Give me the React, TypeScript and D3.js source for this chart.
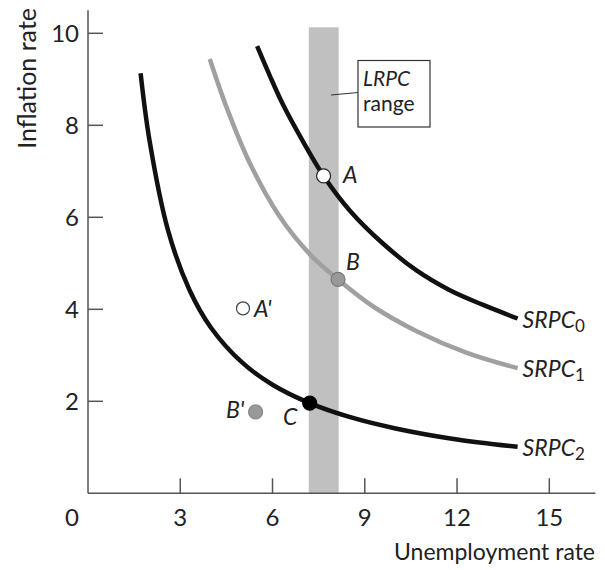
import { useEffect, useRef } from 'react'
import * as d3 from 'd3'

// values (unemployment %, inflation %)
const srpc0 = [
  [5.5, 9.72], [5.91, 9.08], [6.34, 8.45], [6.88, 7.78], [7.66, 6.9], [8.51, 6.15], [9.59, 5.43],
  [10.67, 4.85], [11.75, 4.42], [12.83, 4.1], [13.97, 3.8],
]
const srpc1 = [
  [3.96, 9.44], [4.5, 8.4], [5.26, 7.18], [6.2, 6.05], [7.21, 5.2], [8.13, 4.65], [9.3, 4.05],
  [10.67, 3.53], [12.3, 3.06], [13.97, 2.72],
]
const srpc2 = [
  [1.71, 9.13], [2.0, 7.67], [2.6, 5.72], [3.3, 4.42], [4.0, 3.6], [5.0, 2.85], [6.0, 2.36],
  [7.21, 1.96], [8.5, 1.66], [10.0, 1.41], [12.0, 1.17], [13.97, 1.01],
]
const curveNames = ['0', '1', '2']
const lrpcRange = [7.18, 8.15]
const lrpcTop = 10.13
const xTicks = [3, 6, 9, 12, 15]
const yTicks = [2, 4, 6, 8, 10]
const points = [
  { name: 'A', x: 7.66, y: 6.9, fill: '#fff', stroke: '#222' },
  { name: 'B', x: 8.13, y: 4.65, fill: '#999', stroke: '#777' },
  { name: "A'", x: 5.04, y: 4.02, fill: '#fff', stroke: '#444' },
  { name: "B'", x: 5.45, y: 1.77, fill: '#999', stroke: '#888' },
  { name: 'C', x: 7.21, y: 1.96, fill: '#000', stroke: '#000' },
]

const FONT = 'Lato, "Open Sans", sans-serif'

export default function App() {
  const svgRef = useRef<SVGSVGElement>(null)

  useEffect(() => {
    if (!svgRef.current) return
    const width = 605
    const height = 570

    d3.select(svgRef.current).selectAll('*').remove()
    const svg = d3.select(svgRef.current)
      .attr('width', width)
      .attr('height', height)
      .attr('viewBox', `0 0 ${width} ${height}`)
      .style('font-family', FONT)

    const x = d3.scaleLinear().domain([0, 15]).range([88, 549.3])
    const y = d3.scaleLinear().domain([0, 10]).range([493.3, 33.3])

    // LRPC band
    svg.append('rect')
      .attr('x', x(lrpcRange[0]))
      .attr('y', y(lrpcTop))
      .attr('width', x(lrpcRange[1]) - x(lrpcRange[0]))
      .attr('height', y(0) - y(lrpcTop))
      .attr('fill', '#c0c0c0')

    // axes
    const axisColor = '#555'
    svg.append('line')
      .attr('x1', x(0)).attr('x2', x(0))
      .attr('y1', y(10.5)).attr('y2', y(0))
      .attr('stroke', axisColor).attr('stroke-width', 1.5)
    svg.append('line')
      .attr('x1', x(0)).attr('x2', x(16.5))
      .attr('y1', y(0)).attr('y2', y(0))
      .attr('stroke', axisColor).attr('stroke-width', 1.5)

    svg.selectAll('.xtick')
      .data(xTicks)
      .join('line')
      .attr('x1', d => x(d)).attr('x2', d => x(d))
      .attr('y1', y(0)).attr('y2', y(0) - 15)
      .attr('stroke', axisColor).attr('stroke-width', 1.5)
    svg.selectAll('.ytick')
      .data(yTicks)
      .join('line')
      .attr('x1', x(0)).attr('x2', x(0) + 15)
      .attr('y1', d => y(d)).attr('y2', d => y(d))
      .attr('stroke', axisColor).attr('stroke-width', 1.5)

    svg.selectAll('.xlabel')
      .data([0, ...xTicks])
      .join('text')
      .attr('x', d => (d === 0 ? x(0) - 16 : x(d)))
      .attr('y', 526)
      .attr('text-anchor', 'middle')
      .attr('font-size', 24)
      .attr('fill', '#222')
      .text(d => d)
    svg.selectAll('.ylabel')
      .data(yTicks)
      .join('text')
      .attr('x', 79)
      .attr('y', d => y(d) + 8.5)
      .attr('text-anchor', 'end')
      .attr('font-size', 24)
      .attr('fill', '#222')
      .text(d => d)

    svg.append('text')
      .attr('x', 595).attr('y', 560)
      .attr('text-anchor', 'end')
      .attr('font-size', 23)
      .attr('fill', '#222')
      .text('Unemployment rate')
    svg.append('text')
      .attr('transform', 'translate(36,8) rotate(-90)')
      .attr('text-anchor', 'end')
      .attr('font-size', 25)
      .attr('fill', '#222')
      .text('Inflation rate')

    // curves
    const line = d3.line<number[]>()
      .x(d => x(d[0]))
      .y(d => y(d[1]))
      .curve(d3.curveCatmullRom.alpha(0.5))
    const curves = [
      { data: srpc0, color: '#111' },
      { data: srpc1, color: '#a0a0a0' },
      { data: srpc2, color: '#111' },
    ]
    svg.selectAll('.curve')
      .data(curves)
      .join('path')
      .attr('d', d => line(d.data))
      .attr('fill', 'none')
      .attr('stroke', d => d.color)
      .attr('stroke-width', 4.5)

    const labels = svg.selectAll('.srpc')
      .data(curves)
      .join('text')
      .attr('x', d => x(d.data[d.data.length - 1][0]) + 5)
      .attr('y', d => y(d.data[d.data.length - 1][1]) + 9)
      .attr('font-size', 23)
      .attr('font-style', 'italic')
      .attr('fill', '#222')
    labels.append('tspan').text('SRPC')
    labels.append('tspan')
      .attr('font-size', 17)
      .attr('font-style', 'normal')
      .attr('dy', 4)
      .text((d, i) => curveNames[i])

    // LRPC callout
    svg.append('line')
      .attr('x1', 331).attr('y1', 95)
      .attr('x2', 358).attr('y2', 92.5)
      .attr('stroke', '#333').attr('stroke-width', 1.2)
    svg.append('rect')
      .attr('x', 358).attr('y', 60.5)
      .attr('width', 72).attr('height', 66.5)
      .attr('fill', '#fff')
      .attr('stroke', '#333').attr('stroke-width', 1.2)
    svg.append('text')
      .attr('x', 363).attr('y', 86)
      .attr('font-size', 21)
      .attr('font-style', 'italic')
      .attr('fill', '#222')
      .text('LRPC')
    svg.append('text')
      .attr('x', 363).attr('y', 111)
      .attr('font-size', 21)
      .attr('fill', '#222')
      .text('range')

    // points
    svg.selectAll('.pt')
      .data(points)
      .join('circle')
      .attr('cx', d => x(d.x))
      .attr('cy', d => y(d.y))
      .attr('r', d => (d.name === "A'" ? 6.5 : 7))
      .attr('fill', d => d.fill)
      .attr('stroke', d => d.stroke)
      .attr('stroke-width', 1.2)

    const pointLabelPos = {
      A: [343, 183],
      B: [346, 270],
      "A'": [254, 317],
      "B'": [226, 418],
      C: [283, 425],
    }
    svg.selectAll('.ptlabel')
      .data(points)
      .join('text')
      .attr('x', d => pointLabelPos[d.name][0])
      .attr('y', d => pointLabelPos[d.name][1])
      .attr('font-size', 23)
      .attr('font-style', 'italic')
      .attr('fill', '#222')
      .text(d => d.name)
  }, [])

  return (
    <div style={{ position: 'absolute', left: 0, top: 0 }}>
      <svg ref={svgRef}></svg>
    </div>
  )
}
